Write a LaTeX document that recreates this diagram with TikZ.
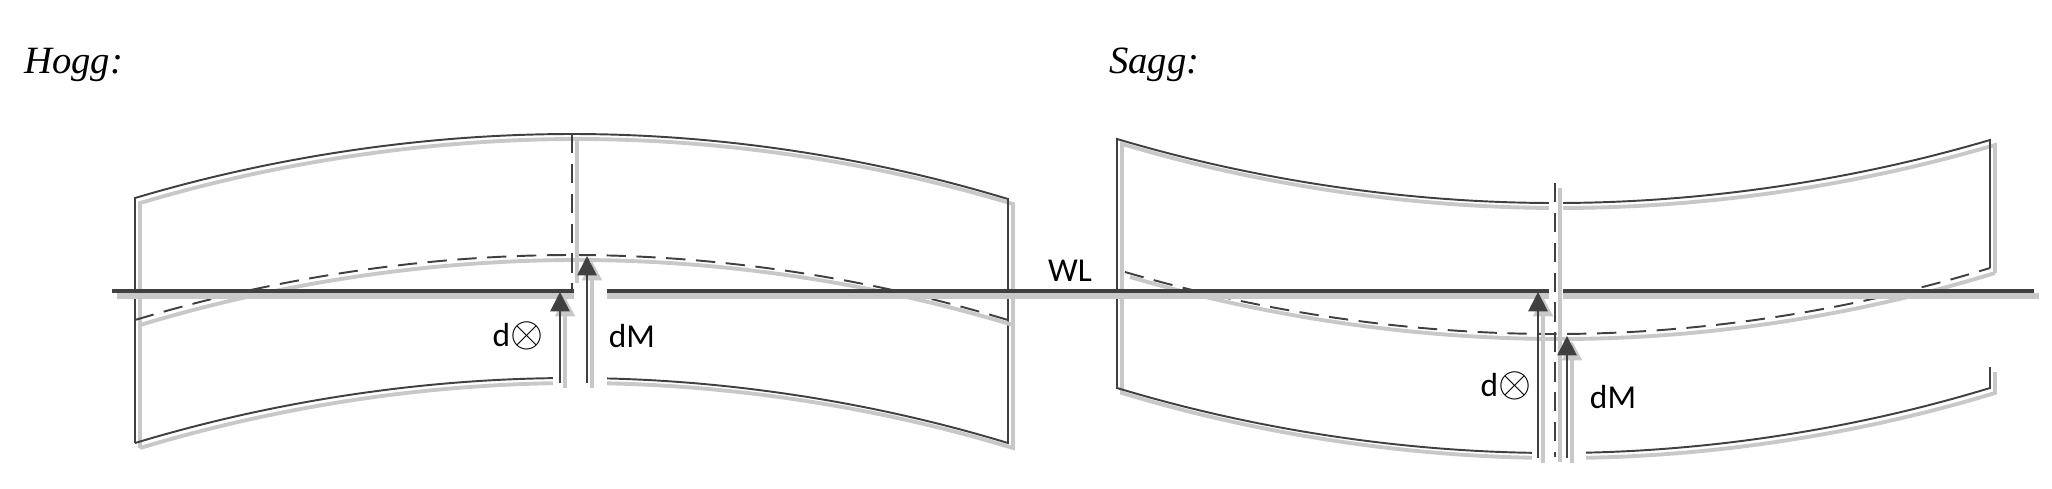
\documentclass[tikz,border=0pt]{standalone}
\usepackage{fontspec}
\setmainfont{Carlito}
\newfontfamily\titlefont{Liberation Serif}
\usepackage{xcolor}
\usetikzlibrary{arrows.meta}

\definecolor{hullgray}{HTML}{404040}
\definecolor{shadegray}{HTML}{C8C8C8}

\newcommand{\bigx}{\scalebox{1.4}{$\otimes$}}

\tikzset{
	shadow/.style={preaction={draw=shadegray, line width=#1, transform canvas={shift={(5,5)}}}},
	shadow/.default=2.2pt,
	hull/.style={draw=hullgray, line width=1.1pt, shadow},
	dashline/.style={hull, dash pattern=on 11pt off 6pt},
	wline/.style={draw=hullgray, line width=1.8pt, shadow=3.4pt},
	lift/.style={hull, -{Triangle[length=11pt, width=11pt]}},
	lbl/.style={font=\fontsize{19}{22}\selectfont},
	title/.style={font=\titlefont\itshape\fontsize{22}{26}\selectfont, anchor=base west},
	gap/.style={fill=white}
}

\begin{document}
\begin{tikzpicture}[x=0.02cm, y=-0.02cm, line join=miter]
	\useasboundingbox (0,0) rectangle (2052,488);

	\node[title] (hogg) at (18,73) {Hogg:};
	\node[title] (sagg) at (1103,73) {Sagg:};

	% hogg section
	\draw[hull] (135,443) -- (135,198) parabola bend (572,134) (1008,199) -- (1008,443) parabola bend (572,378) (135,443);
	\draw[dashline] (135,320) parabola bend (572,255) (1008,320);
	\draw[dashline] (572,134) -- (572,291);

	% sagg section
	\draw[hull] (1990,268) -- (1990,140) parabola bend (1555,203) (1117,139) -- (1117,388) parabola bend (1555,453) (1990,388) -- (1990,367);
	\draw[dashline] (1125,272) parabola bend (1555,334) (1990,268);

	% waterline
	\draw[wline] (112,291) -- (2034,291);
	\node[lbl] (wl) at (1070,271) {WL};

	% gaps round the arrows
	\fill[gap] (574,283) rectangle (607,302);
	\fill[gap] (553,368) rectangle (607,392);
	\fill[gap] (1549,194) rectangle (1563,214);
	\fill[gap] (1549,283) rectangle (1563,302);
	\fill[gap] (1532,442) rectangle (1586,466);

	\draw[dashline] (1555,183) -- (1555,457);

	% arrows
	\coordinate (hfootx) at (560,383);
	\coordinate (hwl) at (560,292);
	\coordinate (hfootm) at (587,383);
	\coordinate (hcg) at (587,256);
	\coordinate (sfootx) at (1538,458);
	\coordinate (swl) at (1538,292);
	\coordinate (sfootm) at (1567,458);
	\coordinate (scg) at (1567,336);

	\draw[lift] (hfootx) -- (hwl);
	\draw[lift] (hfootm) -- (hcg);
	\draw[lift] (sfootx) -- (swl);
	\draw[lift] (sfootm) -- (scg);

	\node[lbl] (hdx) at (518,336) {d\bigx};
	\node[lbl] (hdm) at (632,336) {dM};
	\node[lbl] (sdx) at (1506,386) {d\bigx};
	\node[lbl] (sdm) at (1613,397) {dM};
\end{tikzpicture}
\end{document}
